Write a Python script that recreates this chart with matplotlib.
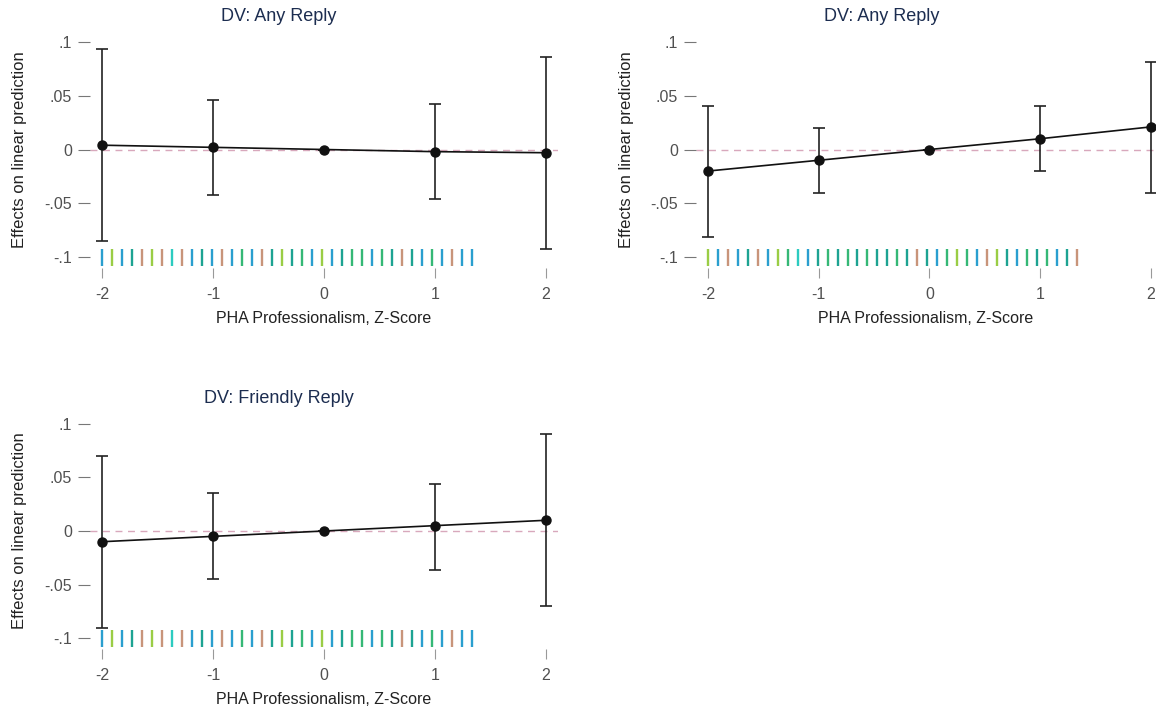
import numpy as np
import matplotlib
matplotlib.use("Agg")
import matplotlib.pyplot as plt

plt.rcParams['font.family'] = ['Liberation Sans', 'DejaVu Sans']

# Marginal effects of PHA professionalism (z-score)
zvals = [-2, -1, 0, 1, 2]

any1_eff = [0.004, 0.002, 0.0, -0.002, -0.003]
any1_lo = [-0.085, -0.042, 0.0, -0.046, -0.092]
any1_hi = [0.093, 0.046, 0.0, 0.042, 0.086]

any2_eff = [-0.020, -0.010, 0.0, 0.010, 0.021]
any2_lo = [-0.081, -0.040, 0.0, -0.020, -0.040]
any2_hi = [0.040, 0.020, 0.0, 0.040, 0.081]

friendly_eff = [-0.010, -0.005, 0.0, 0.005, 0.010]
friendly_lo = [-0.090, -0.045, 0.0, -0.036, -0.070]
friendly_hi = [0.070, 0.035, 0.0, 0.044, 0.090]

# observed z-score values (rug)
rug_x = [-2.00, -1.91, -1.82, -1.73, -1.64, -1.55, -1.46, -1.37, -1.28, -1.19,
         -1.10, -1.01, -0.92, -0.83, -0.74, -0.65, -0.56, -0.47, -0.38, -0.29,
         -0.20, -0.11, -0.02, 0.07, 0.16, 0.25, 0.34, 0.43, 0.52, 0.61,
         0.70, 0.79, 0.88, 0.97, 1.06, 1.15, 1.24, 1.33]

pal = {'b': '#2a9fcf', 't': '#1da392', 'g': '#35b876', 'y': '#9acd45',
       'o': '#c8947a', 'c': '#2ccbc0'}
rug_c1 = "bybtoyocobtbobgbotytgbybtggbgtotbgbobb"
rug_c2 = "ybobtobygcbtgtgtgttgtotbgygboytbgtgbto"

yticks = [-0.1, -0.05, 0, 0.05, 0.1]
ytlabels = ['-.1', '-.05', '0', '.05', '.1']
xticks = [-2, -1, 0, 1, 2]

W, H = 1156, 711
fig = plt.figure(figsize=(W / 100, H / 100), dpi=100)


def panel(left, top, right, bottom, xlim, title, eff, lo, hi, rugcols):
    ax = fig.add_axes([left / W, 1 - bottom / H, (right - left) / W, (bottom - top) / H])
    ax.axhline(0, color='#d8a8bc', lw=1, ls=(0, (5, 4)), zorder=1)
    eff = np.array(eff)
    err = np.array([eff - np.array(lo), np.array(hi) - eff])
    ax.errorbar(zvals, eff, yerr=err, fmt='none', ecolor='#222222', elinewidth=1.2,
                capsize=4, capthick=1.2, zorder=3, clip_on=False)
    ax.plot(zvals, eff, color='#111111', lw=1.2, marker='o', ms=6.5, zorder=4,
            clip_on=False)
    cols = [pal[c] for c in rugcols]
    ax.vlines(rug_x, -0.1084, -0.0926, colors=cols, lw=1.7, zorder=2)
    ax.set_xlim(*xlim)
    ax.set_ylim(-0.110, 0.110)
    ax.set_yticks(yticks)
    ax.set_yticklabels(ytlabels)
    ax.set_xticks(xticks)
    ax.set_xticklabels([str(v) for v in xticks])
    for s in ax.spines.values():
        s.set_visible(False)
    ax.tick_params(axis='y', length=9, width=0.8, color='#777777', pad=4,
                   labelsize=11.5, labelcolor='#505050')
    ax.tick_params(axis='x', length=7, width=0.8, color='#999999', pad=7,
                   labelsize=11.5, labelcolor='#505050')
    ax.set_xlabel('PHA Professionalism, Z-Score', fontsize=11.5, color='#222222', labelpad=6)
    ax.set_ylabel('Effects on linear prediction', fontsize=12, color='#222222')
    ax.yaxis.set_label_coords(-0.135, 0.5)
    ax.set_title(title, x=0.404, pad=7, fontsize=13, color='#1c2d50')
    return ax


panel(90, 31, 558, 268, (-2.108, 2.108), 'DV: Any Reply', any1_eff, any1_lo, any1_hi, rug_c1)
panel(696, 31, 1156, 268, (-2.108, 2.045), 'DV: Any Reply', any2_eff, any2_lo, any2_hi, rug_c2)
panel(90, 413, 558, 649, (-2.108, 2.108), 'DV: Friendly Reply', friendly_eff, friendly_lo,
      friendly_hi, rug_c1)

fig.savefig('out.png', dpi=100)
